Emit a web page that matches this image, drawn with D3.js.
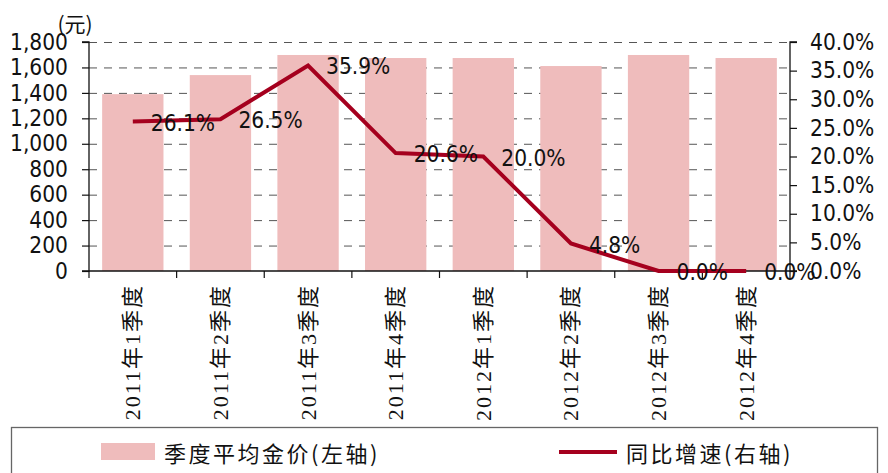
<!DOCTYPE html>
<html>
<head>
<meta charset="utf-8">
<script src="https://cdn.jsdelivr.net/npm/d3@7"></script>
<style>
  html, body { margin: 0; padding: 0; background: #fff; }
  svg { display: block; }
  .num { font-family: "Liberation Sans Narrow", "Arial Narrow", "DejaVu Sans Condensed", sans-serif; font-size: 22.5px; fill: #111; }
  .cat { font-family: "Liberation Serif", "Noto Sans CJK SC", serif; font-size: 22px; fill: #111; letter-spacing: 2px; }
  .leg { font-family: "Noto Sans CJK SC", sans-serif; font-size: 22px; fill: #111; letter-spacing: 2.5px; }
</style>
</head>
<body>
<svg id="chart" width="888" height="473"></svg>
<script>
const categories = ["2011年1季度","2011年2季度","2011年3季度","2011年4季度","2012年1季度","2012年2季度","2012年3季度","2012年4季度"];
const priceValues = [1390, 1540, 1698, 1674, 1674, 1611, 1698, 1674];
const growthValues = [26.1, 26.5, 35.9, 20.6, 20.0, 4.8, 0.0, 0.0];
const leftTicks = [0, 200, 400, 600, 800, 1000, 1200, 1400, 1600, 1800];
const rightTicks = [0, 5, 10, 15, 20, 25, 30, 35, 40];
const seriesNames = ["季度平均金价(左轴)", "同比增速(右轴)"];
const unitLabel = "(元)";

const svg = d3.select("#chart");
const m = { left: 89, right: 790, top: 42, bottom: 271 };
const barColor = "#EFBCBC", lineColor = "#A5001E", gridColor = "#555";

const xc = d3.scaleBand().domain(categories).range([m.left, m.right]);
const yL = d3.scaleLinear().domain([0, 1800]).range([m.bottom, m.top]);
const yR = d3.scaleLinear().domain([0, 40]).range([m.bottom, m.top]);

// grid
svg.append("g").selectAll("line").data(leftTicks.filter(d => d > 0)).join("line")
  .attr("x1", m.left).attr("x2", m.right)
  .attr("y1", d => yL(d) + 0.5).attr("y2", d => yL(d) + 0.5)
  .attr("stroke", gridColor).attr("stroke-width", 1).attr("stroke-dasharray", "8,7");

// bars
svg.append("g").selectAll("rect").data(priceValues).join("rect")
  .attr("x", (d, i) => xc(categories[i]) + xc.bandwidth() * 0.15)
  .attr("width", xc.bandwidth() * 0.7)
  .attr("y", d => yL(d)).attr("height", d => yL(0) - yL(d))
  .attr("fill", barColor);

// axes
const axL = svg.append("g").attr("transform", `translate(${m.left},0)`)
  .call(d3.axisLeft(yL).tickValues(leftTicks).tickSize(7).tickPadding(14).tickFormat(d3.format(",")));
const axR = svg.append("g").attr("transform", `translate(${m.right},0)`)
  .call(d3.axisRight(yR).tickValues(rightTicks).tickSize(7).tickPadding(13).tickFormat(d => d.toFixed(1) + "%"));
const axB = svg.append("g").attr("transform", `translate(0,${m.bottom})`)
  .call(d3.axisBottom(xc).tickSize(0).tickFormat(""));
[axL, axR, axB].forEach(a => {
  a.select(".domain").attr("stroke", "#111").attr("stroke-width", 1.3);
  a.selectAll(".tick line").attr("stroke", "#111").attr("stroke-width", 1.2);
  a.selectAll(".tick text").attr("class", "num").attr("font-family", null).attr("font-size", null);
});
axL.select(".domain").attr("d", `M-7,${m.top}H0V${m.bottom}H-7`);
axR.select(".domain").attr("d", `M7,${m.top}H0V${m.bottom}H7`);
axB.select(".domain").attr("d", `M${m.left},0H${m.right}`);

// category boundary ticks
const bounds = categories.map(c => xc(c)).concat([m.right]);
svg.append("g").selectAll("line").data(bounds).join("line")
  .attr("x1", d => d).attr("x2", d => d)
  .attr("y1", m.bottom).attr("y2", m.bottom + 7)
  .attr("stroke", "#111").attr("stroke-width", 1.2);

// category labels (rotated)
svg.append("g").selectAll("text").data(categories).join("text")
  .attr("class", "cat")
  .attr("transform", d => `translate(${xc(d) + xc.bandwidth() / 2},284) rotate(-90)`)
  .attr("text-anchor", "end").attr("dominant-baseline", "central")
  .text(d => d);

// line
const line = d3.line().x((d, i) => xc(categories[i]) + xc.bandwidth() / 2).y(d => yR(d));
svg.append("path").datum(growthValues).attr("d", line)
  .attr("fill", "none").attr("stroke", lineColor).attr("stroke-width", 4).attr("stroke-linejoin", "miter");

// value labels
svg.append("g").selectAll("text").data(growthValues).join("text")
  .attr("class", "num")
  .attr("x", (d, i) => xc(categories[i]) + xc.bandwidth() / 2 + 18)
  .attr("y", d => yR(d) + 1)
  .attr("dominant-baseline", "central")
  .text(d => d.toFixed(1) + "%");

// unit label
svg.append("text").attr("x", 75).attr("y", 23)
  .attr("text-anchor", "middle").attr("dominant-baseline", "central")
  .attr("font-family", "'Noto Sans CJK SC', sans-serif").attr("font-size", 21).attr("fill", "#111")
  .text(unitLabel);

// legend
svg.append("rect").attr("x", 11.5).attr("y", 427.5).attr("width", 866).attr("height", 60)
  .attr("fill", "none").attr("stroke", "#666").attr("stroke-width", 1.3);
svg.append("rect").attr("x", 101).attr("y", 443).attr("width", 54).attr("height", 17).attr("fill", barColor);
svg.append("text").attr("class", "leg").attr("x", 164).attr("y", 452).attr("dominant-baseline", "central").text(seriesNames[0]);
svg.append("line").attr("x1", 559).attr("x2", 617).attr("y1", 452).attr("y2", 452)
  .attr("stroke", lineColor).attr("stroke-width", 4);
svg.append("text").attr("class", "leg").attr("x", 626).attr("y", 452).attr("dominant-baseline", "central").text(seriesNames[1]);
</script>
</body>
</html>
